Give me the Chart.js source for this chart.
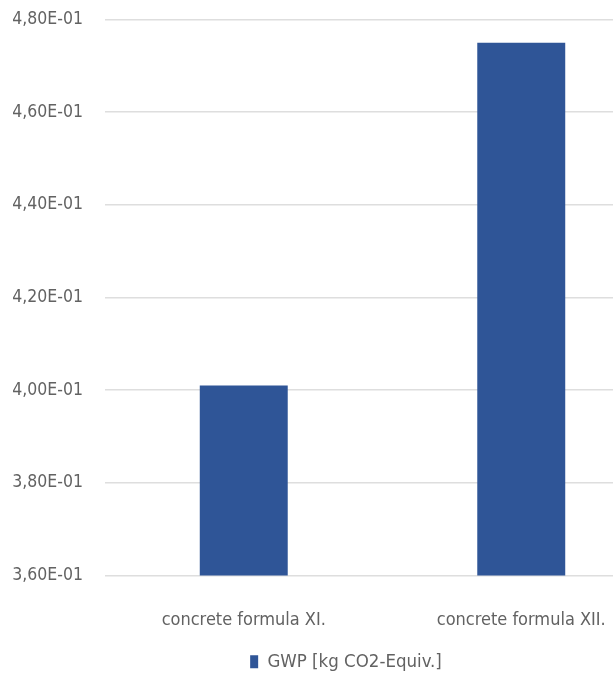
<!DOCTYPE html>
<html>
<head>
<meta charset="utf-8">
<script src="https://cdn.jsdelivr.net/npm/chart.js@4"></script>
<style>
  html, body { margin: 0; padding: 0; background: #ffffff; overflow: hidden; }
  #wrap { position: relative; top: -13px; width: 680px; height: 694px; }
</style>
</head>
<body>
<div id="wrap"><canvas id="chart"></canvas></div>
<script>
// Global warming potential per concrete formula
const categories = ['concrete formula XI.', 'concrete formula XII.'];
const seriesLabel = 'GWP [kg CO2-Equiv.]';
const gwpValues = [0.401, 0.475];
const axisMin = 0.36;
const axisMax = 0.48;
const axisStep = 0.02;

// Excel-style scientific notation with decimal comma, e.g. 4,80E-01
function sciComma(v) {
  const [mant, exp] = Number(v).toExponential(2).split('e');
  const e = parseInt(exp, 10);
  const sign = e < 0 ? '-' : '+';
  return mant.replace('.', ',') + 'E' + sign + String(Math.abs(e)).padStart(2, '0');
}

const FONT = '"Liberation Sans Narrow", "DejaVu Sans Condensed", sans-serif';
const TEXT = '#626262';

// Nudge the legend row so it sits centred under the visible plot
const legendNudge = {
  id: 'legendNudge',
  afterLayout(chart) {
    const lg = chart.legend;
    if (lg) { lg.left += 16; lg.right += 16; }
  }
};

new Chart(document.getElementById('chart'), {
  type: 'bar',
  data: {
    labels: categories,
    datasets: [{
      label: seriesLabel,
      data: gwpValues,
      backgroundColor: '#2f5597',
      borderWidth: 0,
      categoryPercentage: 1.0,
      barPercentage: 0.317
    }]
  },
  plugins: [legendNudge],
  options: {
    responsive: true,
    maintainAspectRatio: false,
    animation: false,
    layout: { padding: { top: 7, right: 20, bottom: 0, left: 0 } },
    plugins: {
      tooltip: { enabled: false },
      legend: {
        position: 'bottom',
        labels: {
          color: TEXT,
          font: { family: FONT, size: 18.5 },
          boxWidth: 8,
          boxHeight: 13,
          padding: 6
        }
      }
    },
    scales: {
      x: {
        grid: { display: false, drawTicks: false },
        border: { display: false },
        ticks: { color: TEXT, font: { family: FONT, size: 18 }, padding: 34 },
        afterFit: (s) => { s.height = 71; }
      },
      y: {
        min: axisMin,
        max: axisMax,
        grid: { color: '#dedede', lineWidth: 1.5, drawTicks: false },
        border: { display: false },
        ticks: {
          stepSize: axisStep,
          color: TEXT,
          font: { family: FONT, size: 17.5 },
          padding: 22,
          callback: (v) => sciComma(v)
        },
        afterFit: (s) => { s.width = 105; }
      }
    }
  }
});
</script>
</body>
</html>
